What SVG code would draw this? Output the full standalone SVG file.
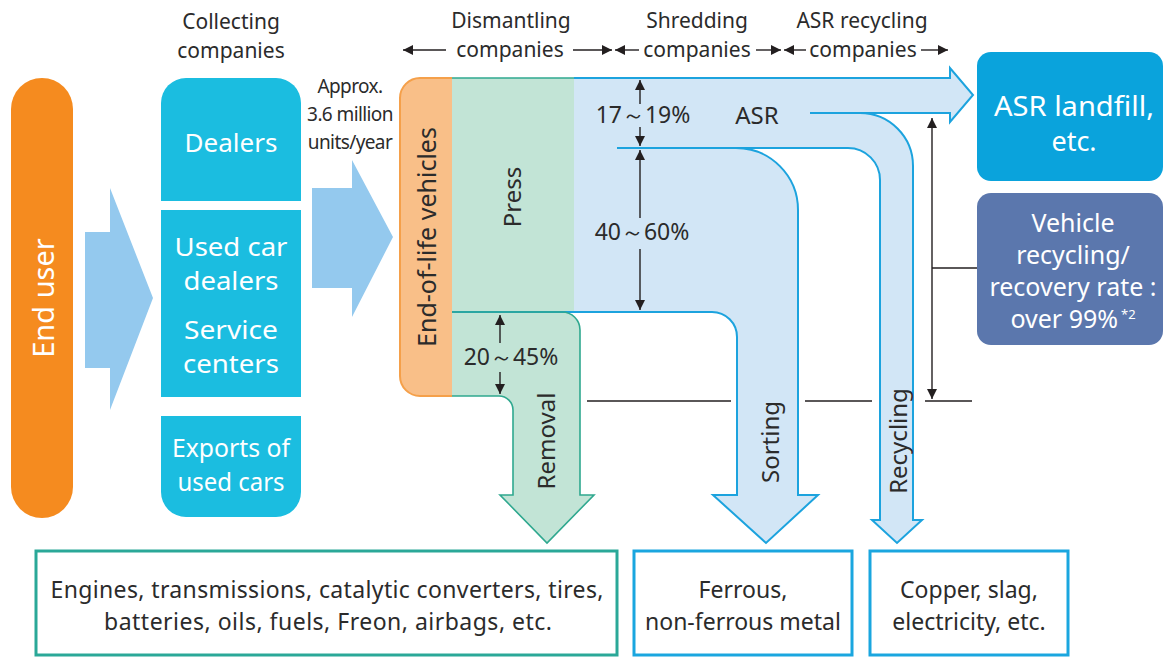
<svg xmlns="http://www.w3.org/2000/svg" width="1163" height="658" viewBox="0 0 1163 658">
<defs>
<style>
text{font-family:"Noto Sans","Open Sans","Liberation Sans",sans-serif;fill:#2b2b2b;}
.w{fill:#ffffff;}
.hd{font-size:21px;text-anchor:middle;}
.bx{font-size:26px;text-anchor:middle;}
.lbl{font-size:24px;text-anchor:middle;}
.pct{font-size:23px;text-anchor:middle;}
.bt{font-size:23px;text-anchor:middle;}
.dim{stroke:#231f20;stroke-width:1.4;fill:none;}
.bl{stroke:#1ca3de;stroke-width:2;fill:none;}
.tl{stroke:#2fa88f;stroke-width:1.6;fill:none;}
</style>
<marker id="ah" viewBox="0 0 10 10" refX="10" refY="5" markerWidth="10" markerHeight="10" markerUnits="userSpaceOnUse" orient="auto-start-reverse">
<path d="M0,0 L10,5 L0,10 z" fill="#231f20"/>
</marker>
</defs>

<g id="headers">
<text class="hd" x="231" y="29" font-size="24">Collecting</text>
<text class="hd" x="231" y="58" font-size="24">companies</text>
<text class="hd" x="511" y="28">Dismantling</text>
<text class="hd" x="510" y="57">companies</text>
<text class="hd" x="697" y="28">Shredding</text>
<text class="hd" x="697" y="57">companies</text>
<text class="hd" x="862" y="28">ASR recycling</text>
<text class="hd" x="863" y="57">companies</text>
<line class="dim" x1="446" y1="50" x2="403" y2="50" marker-end="url(#ah)"/>
<line class="dim" x1="573" y1="50" x2="612" y2="50" marker-end="url(#ah)"/>
<line class="dim" x1="639" y1="50" x2="615" y2="50" marker-end="url(#ah)"/>
<line class="dim" x1="756" y1="50" x2="781" y2="50" marker-end="url(#ah)"/>
<line class="dim" x1="806" y1="50" x2="784" y2="50" marker-end="url(#ah)"/>
<line class="dim" x1="921" y1="50" x2="948" y2="50" marker-end="url(#ah)"/>
</g>

<g id="end-user">
<rect x="11" y="78" width="62" height="440" rx="31" fill="#f58b1f"/>
<text class="w" font-size="29" text-anchor="middle" dominant-baseline="central" transform="translate(42,298) rotate(-90)">End user</text>
</g>

<g id="connectors">
<polygon points="85,232 110,232 110,188 153,298 110,410 110,368 85,368" fill="#94c9ee"/>
<polygon points="312,188 352,188 352,160 393,237 352,317 352,288 312,288" fill="#94c9ee"/>
<text font-family="Liberation Sans,Arial,sans-serif" font-size="19" text-anchor="middle" x="350" y="93" letter-spacing="-0.6">Approx.</text>
<text font-family="Liberation Sans,Arial,sans-serif" font-size="19" text-anchor="middle" x="350" y="121" letter-spacing="-0.6">3.6 million</text>
<text font-family="Liberation Sans,Arial,sans-serif" font-size="19" text-anchor="middle" x="350" y="149" letter-spacing="-0.6">units/year</text>
</g>

<g id="collecting">
<g id="dealers">
<path d="M161,201 V103 A25,25 0 0 1 186,78 H276 A25,25 0 0 1 301,103 V201 Z" fill="#1bbde0"/>
<text class="w bx" x="231" y="152" font-size="27">Dealers</text>
</g>
<g id="used-car">
<rect x="161" y="210" width="140" height="187" fill="#1bbde0"/>
<text class="w bx" x="231" y="256" textLength="113" lengthAdjust="spacingAndGlyphs">Used car</text>
<text class="w bx" x="231" y="290" textLength="95" lengthAdjust="spacingAndGlyphs">dealers</text>
<text class="w bx" x="231" y="339" textLength="94" lengthAdjust="spacingAndGlyphs">Service</text>
<text class="w bx" x="231" y="373" textLength="96" lengthAdjust="spacingAndGlyphs">centers</text>
</g>
<g id="exports">
<path d="M161,416 H301 V492 A25,25 0 0 1 276,517 H186 A25,25 0 0 1 161,492 Z" fill="#1bbde0"/>
<text class="w bx" x="231" y="457" textLength="118" lengthAdjust="spacingAndGlyphs">Exports of</text>
<text class="w bx" x="231" y="491" textLength="107" lengthAdjust="spacingAndGlyphs">used cars</text>
</g>
</g>

<g id="flow">
<path d="M574,78 H950 V68 L973,95 L950,122 V113 H860 A53,53 0 0 1 913,166 V520 H922 L897,543 L872,520 H880 V180 A32,32 0 0 0 848,148 H736 A62,62 0 0 1 798,210 V495 H818 L766,543 L713,495 H737 V337 A25,25 0 0 0 712,312 H574 Z" fill="#d2e6f6"/>
<rect x="452" y="78" width="122" height="234" fill="#c2e4d6"/>
<path d="M452,312 H562 A18,18 0 0 1 580,330 V495 H594 L547,543 L500,495 H513 V410 A14,14 0 0 0 499,396 H452 Z" fill="#c2e4d6"/>
<path d="M452,78 H420 A20,20 0 0 0 400,98 V376 A20,20 0 0 0 420,396 H452 Z" fill="#f9bf88"/>
<path d="M452,78 H420 A20,20 0 0 0 400,98 V376 A20,20 0 0 0 420,396 H452" fill="none" stroke="#f5a04a" stroke-width="2"/>
<line class="tl" x1="452" y1="78" x2="574" y2="78"/>
<path class="bl" d="M574,78 H950 V68 L973,95 L950,122 V113 H810"/>
<path class="bl" d="M860,113 A53,53 0 0 1 913,166 V520 H922 L897,543 L872,520 H880 V180 A32,32 0 0 0 848,148 H617"/>
<path class="bl" d="M736,148 A62,62 0 0 1 798,210 V495 H818 L766,543 L713,495 H737 V337 A25,25 0 0 0 712,312 H452"/>
<path class="tl" d="M452,312 H562 A18,18 0 0 1 580,330 V495 H594 L547,543 L500,495 H513 V410 A14,14 0 0 0 499,396 H452"/>
<text font-size="25" text-anchor="middle" dominant-baseline="central" transform="translate(426,237) rotate(-90)">End-of-life vehicles</text>
<text class="lbl" dominant-baseline="central" transform="translate(511,197) rotate(-90)">Press</text>
<text class="lbl" dominant-baseline="central" transform="translate(545,441) rotate(-90)">Removal</text>
<text class="lbl" dominant-baseline="central" transform="translate(769,442) rotate(-90)">Sorting</text>
<text class="lbl" dominant-baseline="central" transform="translate(897,441) rotate(-90)">Recycling</text>
<text class="lbl" x="757" y="124">ASR</text>
<text class="pct" x="643" y="123">17～19%</text>
<text class="pct" x="642" y="240">40～60%</text>
<text class="pct" x="511" y="365">20～45%</text>
<line class="dim" x1="640" y1="104" x2="640" y2="80" marker-end="url(#ah)"/>
<line class="dim" x1="640" y1="127" x2="640" y2="146" marker-end="url(#ah)"/>
<line class="dim" x1="640" y1="218" x2="640" y2="150" marker-end="url(#ah)"/>
<line class="dim" x1="640" y1="249" x2="640" y2="310" marker-end="url(#ah)"/>
<line class="dim" x1="500" y1="343" x2="500" y2="315" marker-end="url(#ah)"/>
<line class="dim" x1="500" y1="372" x2="500" y2="394" marker-end="url(#ah)"/>
<line class="dim" x1="932" y1="118" x2="932" y2="399" marker-start="url(#ah)" marker-end="url(#ah)"/>
<line class="dim" x1="932" y1="268" x2="977" y2="268"/>
<line class="dim" x1="587" y1="401" x2="731" y2="401"/>
<line class="dim" x1="805" y1="401" x2="872" y2="401"/>
<line class="dim" x1="925" y1="401" x2="972" y2="401"/>
</g>

<g id="asr-landfill">
<rect x="977" y="52" width="186" height="129" rx="14" fill="#0aa3dc"/>
<text class="w" font-size="27" text-anchor="middle" x="1074" y="116" textLength="160" lengthAdjust="spacingAndGlyphs">ASR landfill,</text>
<text class="w" font-size="27" text-anchor="middle" x="1074" y="151">etc.</text>
</g>

<g id="recovery-rate">
<rect x="977" y="193" width="186" height="152" rx="14" fill="#5b77ad"/>
<text class="w" font-size="25" text-anchor="middle" x="1073" y="232">Vehicle</text>
<text class="w" font-size="25" text-anchor="middle" x="1073" y="264">recycling/</text>
<text class="w" font-size="25" text-anchor="middle" x="1073" y="296">recovery rate :</text>
<text class="w" font-size="25" text-anchor="middle" x="1073" y="328">over 99%<tspan font-size="13" dy="-9" dx="3">*2</tspan></text>
</g>

<g id="parts">
<rect x="36" y="551" width="581" height="104" fill="#ffffff" stroke="#2aa898" stroke-width="3"/>
<text class="bt" x="327" y="598" textLength="553" lengthAdjust="spacing">Engines, transmissions, catalytic converters, tires,</text>
<text class="bt" x="328" y="630" textLength="448" lengthAdjust="spacing">batteries, oils, fuels, Freon, airbags, etc.</text>
</g>
<g id="metal">
<rect x="634" y="551" width="218" height="104" fill="#ffffff" stroke="#1aa6df" stroke-width="3"/>
<text class="bt" x="743" y="598">Ferrous,</text>
<text class="bt" x="743" y="630">non-ferrous metal</text>
</g>
<g id="copper">
<rect x="870" y="551" width="198" height="104" fill="#ffffff" stroke="#1aa6df" stroke-width="3"/>
<text class="bt" x="969" y="598">Copper, slag,</text>
<text class="bt" x="969" y="630">electricity, etc.</text>
</g>
</svg>
